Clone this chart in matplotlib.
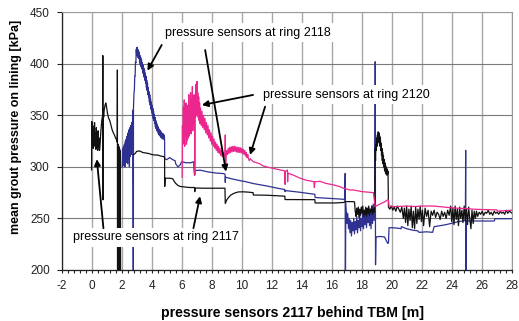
import numpy as np
import matplotlib
matplotlib.use("Agg")
import matplotlib.pyplot as plt
from matplotlib.ticker import MultipleLocator

plt.rcParams["font.family"] = ["Liberation Sans", "DejaVu Sans"]
plt.rcParams["axes.unicode_minus"] = False

# ring 2117 (black)
x_2117 = [0.00, 0.02, 0.05, 0.08, 0.11, 0.14, 0.17, 0.20, 0.23, 0.26, 0.29, 0.32, 0.35, 0.38,
          0.41, 0.44, 0.47, 0.50, 0.53, 0.57, 0.62, 0.68, 0.74, 0.75, 0.76, 0.78, 0.79, 0.80,
          0.84, 0.90, 0.95, 1.00, 1.06, 1.12, 1.18, 1.23, 1.30, 1.37, 1.45, 1.52, 1.60, 1.68,
          1.71, 1.72, 1.73, 1.76, 1.79, 1.81, 1.84, 1.86, 1.89, 1.91, 1.94,
          np.nan,
          2.78, 2.90, 3.00, 3.20, 3.40, 3.60, 3.80, 4.00, 4.20, 4.40, 4.60, 4.80, 4.86, 4.87,
          4.90, 5.20, 5.40, 5.50, 5.60, 5.75, 5.90, 6.20, 6.50, 6.85, 6.87, 6.90, 7.50, 8.00,
          8.50, 8.88, 8.90, 9.00, 9.10, 9.25, 9.43, 9.60, 9.77, 10.10, 10.44, 10.75, 10.77,
          11.20, 11.66, 12.30, 12.86, 12.88, 13.50, 14.20, 14.86, 14.88, 15.50, 16.20, 16.80,
          16.85, 17.40, 17.50, 17.55, 17.60, 17.65, 17.70, 17.75, 17.80, 17.85, 17.90, 17.95,
          18.00, 18.05, 18.10, 18.15, 18.20, 18.25, 18.30, 18.35, 18.40, 18.45, 18.50, 18.55,
          18.60, 18.65, 18.70, 18.75, 18.80, 18.85, 18.87, 18.88, 18.90, 18.925, 18.95, 18.975,
          19.00, 19.025, 19.05, 19.075, 19.10, 19.125, 19.15, 19.175, 19.20, 19.225, 19.25,
          19.275, 19.30, 19.325, 19.35, 19.375, 19.40, 19.425, 19.45, 19.475, 19.50, 19.525,
          19.55, 19.575, 19.60, 19.625, 19.65, 19.675, 19.70, 19.73, 19.76,
          19.85, 19.95, 20.05, 20.15, 20.25, 20.35, 20.45, 20.55, 20.65, 20.75, 20.82, 20.90,
          20.97, 21.05, 21.12, 21.20, 21.27, 21.35, 21.42, 21.50, 21.57, 21.65, 21.72, 21.80,
          21.87, 21.95, 22.02, 22.10, 22.20, 22.30, 22.40, 22.50, 22.60, 22.70, 22.80, 22.90,
          23.00, 23.10, 23.20, 23.30, 23.40, 23.50, 23.60, 23.70, 23.80, 23.90, 23.97, 24.05,
          24.12, 24.20, 24.27, 24.35, 24.42, 24.50, 24.57, 24.65, 24.72, 24.80, 24.87, 24.95,
          25.02, 25.10, 25.17, 25.25, 25.32, 25.40, 25.47, 25.55, 25.62, 25.70, 25.80, 25.90,
          26.00, 26.10, 26.20, 26.30, 26.40, 26.50, 26.60, 26.70, 26.80, 26.90, 27.00, 27.10,
          27.20, 27.30, 27.40, 27.50, 27.60, 27.70, 27.80, 27.90, 28.00]
y_2117 = [297, 344, 322, 340, 318, 336, 325, 343, 320, 333, 317, 338, 322, 330,
          316, 335, 319, 328, 316, 322, 335, 345, 350, 408, 268, 340, 352, 348,
          355, 360, 362, 358, 352, 348, 346, 344, 340, 336, 333, 331, 328, 326,
          324, 394, 150, 322, 150, 320, 150, 318, 150, 316, 150,
          np.nan,
          311.6, 313, 315, 315.5, 314, 313.5, 313, 312, 311.5, 311.5, 310.5, 310, 309, 281,
          289, 289, 288.5, 286, 284, 282, 281, 280.5, 280, 280, 276, 279.5, 279.3, 279.3,
          279.3, 279.3, 264.5, 268, 270, 272.5, 274, 275, 275.7, 275.8, 275.5, 275, 272.7,
          272.6, 272.5, 272, 271.6, 268.3, 268.3, 268.3, 268.2, 265, 265, 265, 265.5,
          266.3, 266.3, 266, 257, 252, 260, 254, 261, 251, 259, 253, 261,
          255, 262, 252, 258, 254, 261, 252, 260, 255, 262, 253, 259,
          256, 262, 254, 259, 256, 262, 300, 318, 306, 322, 316, 328,
          320, 331, 324, 334, 326, 333, 323, 330, 320, 328, 316,
          323, 311, 318, 306, 314, 303, 311, 300, 307, 297, 304,
          295, 301, 293, 299, 292, 298, 293, 296, 261,
          259, 262, 258, 261, 257, 262, 259, 256, 261, 250, 260, 246,
          262, 243, 259, 248, 262, 241, 257, 240, 261, 245, 259, 249,
          262, 247, 258, 243, 260, 252, 258, 242, 257, 253, 258, 251,
          256, 254, 249, 257, 252, 256, 250, 258, 253, 262, 247, 260,
          244, 262, 249, 259, 243, 261, 250, 258, 246, 262, 248, 259,
          244, 261, 250, 240, 258, 245, 257, 250, 257, 252, 256, 254,
          257, 253, 256, 255, 258, 254, 256, 253, 257, 255, 256, 254,
          257, 255, 256, 254, 258, 255, 257, 256, 255]

# ring 2118 (blue)
x_2118 = [2.04, 2.07, 2.10, 2.13, 2.16, 2.19, 2.22, 2.25, 2.28, 2.31, 2.34, 2.37, 2.40, 2.43,
          2.46, 2.49, 2.52, 2.55, 2.58, 2.61, 2.64, 2.67, 2.70, 2.74, 2.78, 2.79,
          2.80, 2.825, 2.85, 2.875, 2.90, 2.925, 2.95, 2.975, 3.00, 3.025, 3.05, 3.075, 3.10,
          3.125, 3.15, 3.175, 3.20, 3.225, 3.25, 3.275, 3.30, 3.325, 3.35, 3.375, 3.40, 3.425,
          3.45, 3.475, 3.50, 3.525, 3.55, 3.575, 3.60, 3.625, 3.65, 3.675, 3.70, 3.725, 3.75,
          3.775, 3.80, 3.825, 3.85, 3.875, 3.90, 3.925, 3.95, 3.975, 4.00, 4.025, 4.05, 4.075,
          4.10, 4.125, 4.15, 4.175, 4.20, 4.225, 4.25, 4.275, 4.30, 4.325, 4.35, 4.375, 4.40,
          4.425, 4.45, 4.475, 4.50, 4.525, 4.55, 4.575, 4.60, 4.625, 4.65, 4.675, 4.70, 4.725,
          4.75, 4.775, 4.80, 4.83, 4.86, 4.87, 5.00, 5.20, 5.40,
          5.56, 5.60, 5.75, 5.90, 6.00, 6.30, 6.60, 6.80, 6.82, 6.85, 6.90, 7.22, 7.80, 8.30,
          8.78, 8.88, 8.90, 8.92, 9.30, 9.77, 10.30, 10.77, 11.20, 11.66, 12.30, 12.86, 12.88,
          12.90, 13.80, 14.77, 14.86, 14.88, 15.80, 16.76, 16.86, 16.88, 16.89, 16.92, 16.95,
          17.00, 17.05, 17.10, 17.15, 17.20, 17.25, 17.30, 17.35, 17.40, 17.45, 17.50, 17.55,
          17.60, 17.65, 17.70, 17.75, 17.80, 17.85, 17.90, 17.95, 18.00, 18.05, 18.10, 18.15,
          18.20, 18.25, 18.30, 18.35, 18.40, 18.45, 18.50, 18.55, 18.60, 18.65, 18.70, 18.75,
          18.80, 18.85, 18.88, 18.90, 18.93, 19.20, 19.50, 19.70, 19.76, 19.80, 20.00, 20.40,
          20.60, 20.62, 20.98, 21.40, 21.70, 21.80, 22.30, 22.70, 22.80, 23.20, 23.50, 23.90,
          24.30, 24.88, 24.90, 24.91, 24.93, 25.40, 26.00, 26.80, 26.85, 27.50, 28.00]
y_2118 = [300, 318, 301, 320, 302, 322, 300, 325, 304, 327, 305, 330, 303, 333,
          308, 336, 300, 338, 310, 340, 312, 343, 320, 355, 150, 358,
          361, 372, 374, 388, 388, 402, 401, 414, 408, 416, 409, 414, 406,
          413, 405, 411, 401, 408, 399, 406, 397, 404, 395, 401, 392, 399,
          390, 396, 387, 394, 384, 391, 381, 388, 377, 384, 374, 381, 370,
          377, 367, 373, 363, 370, 360, 366, 356, 363, 353, 360, 350, 357,
          347, 354, 345, 351, 342, 348, 339, 345, 337, 343, 335, 341, 334,
          339, 332, 337, 331, 336, 330, 335, 329, 334, 328, 333, 328, 332,
          327, 332, 327, 331, 327, 308, 307, 309, 307,
          306, 303, 300, 302, 305, 304, 304, 305, 297, 292, 296.5, 296.8, 295, 294,
          293.5, 293, 285, 290, 288.5, 287, 285.5, 283.8, 282.7, 281.5, 279.5, 278, 276,
          277, 275.5, 273.6, 273.4, 270.3, 269.5, 268.6, 268, 293.6, 150, 265, 258,
          245, 255, 240, 250, 236, 248, 233, 246, 238, 250, 235, 247,
          239, 252, 236, 248, 241, 254, 238, 250, 242, 256, 240, 253,
          244, 258, 241, 255, 246, 260, 243, 257, 240, 262, 245, 264,
          248, 265, 402, 205, 232, 232.5, 232, 226, 226, 241, 241, 240.5,
          240, 242, 240, 238.5, 238, 236.5, 237, 236.5, 242, 243, 243.7, 245,
          246.5, 248, 316, 150, 247.5, 247.5, 247.5, 247.5, 249.7, 249.7, 249.7]

# ring 2120 (magenta)
x_2120 = [6.03, 6.05, 6.08, 6.11, 6.14, 6.17, 6.20, 6.23, 6.26, 6.29, 6.32, 6.35, 6.38, 6.41,
          6.44, 6.47, 6.50, 6.53, 6.56, 6.59, 6.62, 6.65, 6.68, 6.71, 6.74, 6.77, 6.80, 6.83,
          6.86, 6.87, 6.89, 6.92, 6.95, 6.98, 7.01, 7.04, 7.07, 7.10, 7.13, 7.16, 7.19, 7.22,
          7.25, 7.30, 7.35, 7.40, 7.45, 7.50, 7.55, 7.60, 7.65, 7.70, 7.75, 7.80, 7.85, 7.90,
          7.95, 8.00, 8.05, 8.10, 8.15, 8.20, 8.25, 8.30, 8.35, 8.40, 8.45, 8.50, 8.55, 8.60,
          8.65, 8.70, 8.75, 8.80, 8.85, 8.88, 8.90, 8.92, 8.95, 9.00, 9.05, 9.10, 9.15, 9.20,
          9.25, 9.30, 9.35, 9.40, 9.45, 9.50, 9.55, 9.60, 9.65, 9.70, 9.75, 9.80, 9.85, 9.90,
          9.95, 10.00, 10.05, 10.10, 10.15, 10.20, 10.25, 10.30, 10.35, 10.40, 10.44, 10.50,
          10.55, 10.77, 11.00, 11.20, 11.40, 11.66, 12.10, 12.55,
          12.87, 12.88, 12.90, 13.04, 13.05, 13.07, 13.43, 13.88, 14.30, 14.80, 14.83, 14.86,
          15.20, 15.60, 16.10, 16.50, 16.76, 17.20, 17.43, 18.00, 18.76, 18.87, 19.20, 19.50,
          19.70, 19.76, 19.80, 20.20, 20.98, 21.50, 22.00, 22.76, 23.50, 24.20, 25.00, 25.40,
          26.20, 26.98, 27.00, 27.50, 28.00]
y_2120 = [290, 340, 322, 358, 325, 365, 320, 352, 330, 362, 322, 348, 326, 360,
          328, 370, 330, 356, 334, 372, 332, 366, 340, 378, 335, 362, 342, 370,
          345, 292, 366, 348, 380, 350, 383, 352, 372, 348, 368, 345, 362, 342,
          357, 340, 354, 338, 350, 336, 347, 333, 343, 331, 340, 328, 336, 325,
          333, 322, 330, 320, 327, 318, 324, 316, 322, 314, 320, 313, 318, 311,
          316, 310, 314, 309, 313, 312, 331, 300, 310, 316, 312, 318, 313, 319,
          314, 319.5, 314.5, 320, 315, 320, 315, 319.5, 314.5, 319, 314, 319, 314, 318.5,
          313.5, 318, 313, 317, 312, 316, 310.5, 314, 309, 312, 308, 306,
          308, 305, 304, 303, 301, 300, 298.5, 297,
          296, 283, 295.5, 297, 285.5, 294, 292, 289, 287, 285.7, 280, 285.5,
          286, 284, 282.5, 281, 279.3, 277.6, 277.6, 276, 275, 261.4, 264, 266,
          268, 268, 262, 261.5, 262, 261.5, 262, 262, 261, 260, 259.5, 259,
          258.5, 258.3, 257, 257.5, 258]

labels = ["pressure sensors at ring 2117", "pressure sensors at ring 2118",
          "pressure sensors at ring 2120"]
x_ticks = list(range(-2, 29, 2))
y_ticks = list(range(200, 451, 50))

fig = plt.figure(figsize=(5.19, 3.21), dpi=100)
ax = fig.add_axes([0.1185, 0.159, 0.8685, 0.8028])

ax.plot(x_2118, y_2118, color="#2e3192", lw=0.9, zorder=3)
ax.plot(x_2117, y_2117, color="#111111", lw=0.9, zorder=4)
ax.plot(x_2120, y_2120, color="#ec268f", lw=0.9, zorder=5)

ax.set_xlim(-2, 28)
ax.set_ylim(200, 450)
ax.set_xticks(x_ticks)
ax.set_yticks(y_ticks)
ax.xaxis.set_minor_locator(MultipleLocator(0.4))
ax.tick_params(axis="x", which="both", direction="out", length=2.5, width=0.8,
               labelsize=8.5, pad=5, colors="#222222")
ax.tick_params(axis="y", direction="out", length=3.5, width=0.8, labelsize=8.5,
               pad=5, colors="#222222")
ax.grid(axis="x", color="#a8a8a8", lw=1.0, zorder=0)
ax.grid(axis="y", color="#7a7a7a", lw=0.8, zorder=0)
ax.set_axisbelow(True)
for s in ["top", "right"]:
    ax.spines[s].set_color("#9a9a9a")
for s in ["left", "bottom"]:
    ax.spines[s].set_color("#222222")
    ax.spines[s].set_linewidth(0.9)

ax.set_xlabel("pressure sensors 2117 behind TBM [m]", fontsize=10.2,
              fontweight="bold", va="center")
ax.xaxis.set_label_coords(0.512, -0.167)
ax.set_ylabel("mean grout pressure on lining [kPa]", fontsize=9,
              fontweight="bold", va="center")
ax.yaxis.set_label_coords(-0.102, 0.555)

box = dict(facecolor="white", edgecolor="none", pad=2.5)
ax.text(-1.25, 231.8, labels[0], fontsize=9, ha="left", va="center", bbox=box, zorder=6)
ax.text(4.89, 429.9, labels[1], fontsize=9, ha="left", va="center", bbox=box, zorder=6)
ax.text(11.42, 369.8, labels[2], fontsize=9, ha="left", va="center", bbox=box, zorder=6)

# arrows: (tail, head) in data coordinates
arrows = [((0.79, 240.5), (0.35, 307.5)),
          ((6.78, 240.5), (7.22, 271.5)),
          ((4.67, 418.3), (3.72, 393.4)),
          ((7.56, 413.4), (8.95, 295.4)),
          ((10.75, 369.8), (7.34, 360.0)),
          ((11.55, 358.4), (10.55, 311.6))]
for tail, head in arrows:
    ax.annotate("", xy=head, xytext=tail, zorder=7,
                arrowprops=dict(arrowstyle="-|>", color="black", lw=1.3,
                                mutation_scale=9, shrinkA=0, shrinkB=0))

fig.savefig("out.png", dpi=100)
